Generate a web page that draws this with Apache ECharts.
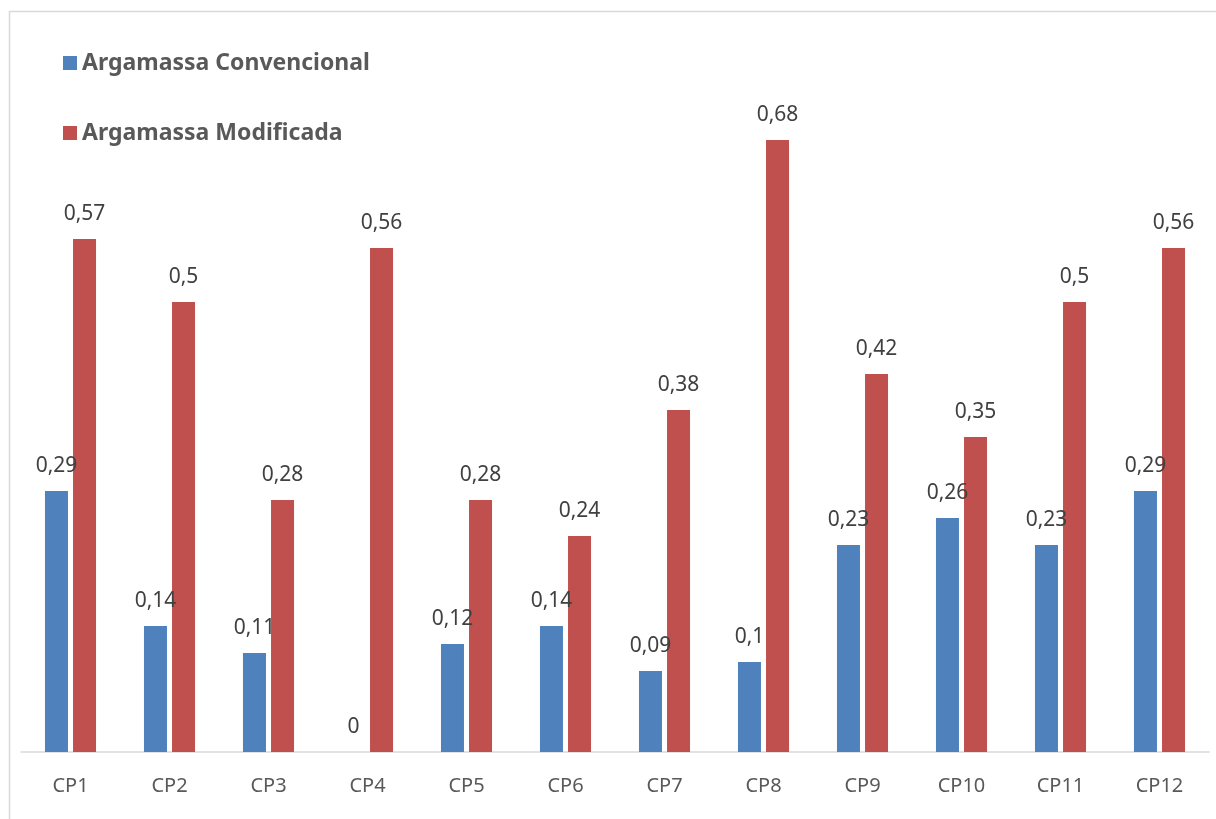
<!DOCTYPE html>
<html>
<head>
<meta charset="utf-8">
<script src="https://cdn.jsdelivr.net/npm/echarts@6/dist/echarts.min.js"></script>
<style>
html,body{margin:0;padding:0;background:#fff;}
#chart{width:1216px;height:819px;}
</style>
</head>
<body>
<div id="chart"></div>
<script>
const categories = ['CP1','CP2','CP3','CP4','CP5','CP6','CP7','CP8','CP9','CP10','CP11','CP12'];
const convencional = [0.29,0.14,0.11,0,0.12,0.14,0.09,0.1,0.23,0.26,0.23,0.29];
const modificada = [0.57,0.5,0.28,0.56,0.28,0.24,0.38,0.68,0.42,0.35,0.5,0.56];
const seriesNames = ['Argamassa Convencional','Argamassa Modificada'];

const chart = echarts.init(document.getElementById('chart'));
const fmt = p => String(p.value).replace('.', ',');
const labelStyle = {
  show: true, position: 'top', distance: 14,
  fontFamily: 'Noto Sans', fontSize: 21, color: '#404040', formatter: fmt
};
chart.setOption({
  animation: false,
  graphic: [{
    type: 'rect', left: 7, top: 9,
    shape: {width: 1240, height: 840},
    style: {fill: 'none', stroke: '#d9d9d9', lineWidth: 1.5},
    silent: true
  }],
  legend: {
    orient: 'vertical', left: 58, top: 45,
    itemWidth: 14, itemHeight: 14, itemGap: 44,
    icon: 'rect',
    textStyle: {fontFamily: 'Noto Sans', fontWeight: 'bold', fontSize: 23, color: '#595959', lineHeight: 26},
    data: seriesNames
  },
  grid: {left: 21, right: 7, top: 32, bottom: 819 - 752, containLabel: false},
  xAxis: {
    type: 'category', data: categories,
    axisLine: {show: true, lineStyle: {color: '#d9d9d9', width: 1.5}},
    axisTick: {show: false},
    axisLabel: {margin: 24, fontFamily: 'Noto Sans', fontSize: 20, color: '#595959'}
  },
  yAxis: {
    type: 'value', min: 0, max: 0.8, interval: 0.1,
    show: false, splitLine: {show: false}
  },
  series: [
    {name: seriesNames[0], type: 'bar', data: convencional, itemStyle: {color: '#4F81BD'},
     barWidth: 23, barGap: '22%', label: labelStyle},
    {name: seriesNames[1], type: 'bar', data: modificada, itemStyle: {color: '#C0504D'},
     barWidth: 23, barGap: '22%', label: labelStyle}
  ]
});
</script>
</body>
</html>
